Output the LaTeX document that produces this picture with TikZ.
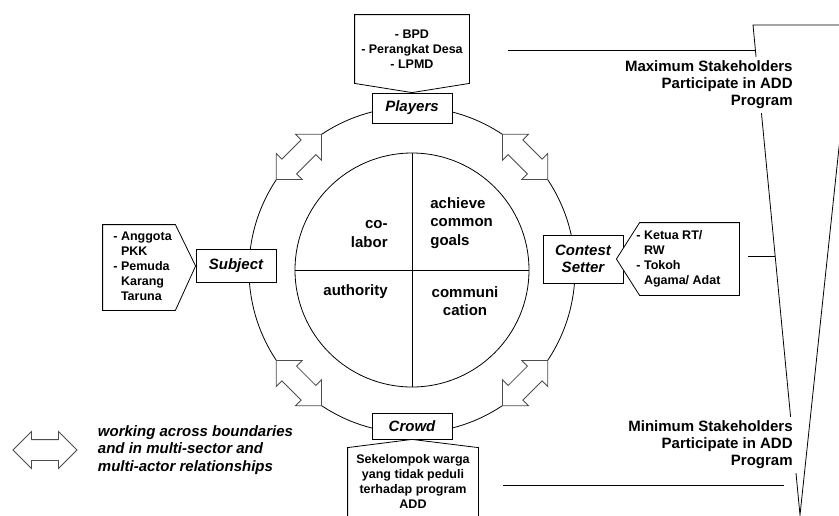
\documentclass[tikz,border=0pt]{standalone}
\usepackage{fontspec}
\setmainfont{Liberation Sans}
\usetikzlibrary{shapes.arrows,positioning,calc}

\tikzset{
  lbl/.style={draw, fill=white, font=\bfseries\itshape\fontsize{15}{17}\selectfont, inner sep=0pt, minimum width=80pt, minimum height=30pt, align=center},
  cbody/.style={inner sep=0pt},
  callout/.style={draw, fill=white},
  ctext/.style={font=\bfseries\fontsize{12.5}{15}\selectfont, inner sep=0pt},
  qtext/.style={font=\bfseries\fontsize{15}{18.5}\selectfont, inner sep=0pt},
  note/.style={font=\bfseries\fontsize{15}{17}\selectfont, fill=white, inner sep=4pt, align=right},
  legend/.style={font=\bfseries\itshape\fontsize{15}{17.5}\selectfont, inner sep=2pt, align=left},
  linkarrow/.style={double arrow, draw=black!70, fill=white, double arrow head extend=8pt, double arrow tip angle=90, inner xsep=0pt, inner ysep=10pt, minimum height=64pt}
}

\begin{document}
\begin{tikzpicture}[x=1pt, y=-1pt, line width=0.8pt]
\useasboundingbox (0,0) rectangle (839,515);

% circle =============================
\coordinate (ctr) at (412,270);
\draw (ctr) circle[radius=163pt];
\draw (ctr) circle[radius=117pt];
\draw ($(ctr)+(0,-117)$) -- ($(ctr)+(0,117)$);
\draw ($(ctr)+(-117,0)$) -- ($(ctr)+(117,0)$);

% quarters
\node[qtext, align=left, anchor=west] (goals) at (430,223) {achieve\\common\\goals};
\node[qtext, align=right, anchor=east] (colabor) at (388,234) {co-\\labor};
\node[qtext, anchor=east] (authority) at (388,292) {authority};
\node[qtext, align=center] (communi) at (465,301) {communi\\cation};

% links on the ring
\foreach \a [count=\i] in {135,45,-45,-135}
  \node[linkarrow, rotate=\a+90] (link\i) at ($(ctr)+({160*cos(\a)},{-160*sin(\a)})$) {};

% actors =============================
\node[lbl] (players) at (412,108) {Players};
\node[lbl, minimum height=33pt] (subject) at (236,266) {Subject};
\node[lbl, minimum height=48pt] (contest) at (583,259) {Contest\\Setter};
\node[lbl, minimum height=26pt] (crowd) at (412,426) {Crowd};

% players callout
\node[cbody, minimum width=114pt, minimum height=68pt] (bpdbox) at (412,49) {};
\draw[callout] (bpdbox.north west) -- (bpdbox.north east) -- (bpdbox.south east) -- (players.north) -- (bpdbox.south west) -- cycle;
\node[ctext, align=center] (bpd) at (bpdbox) {- BPD\\- Perangkat Desa\\- LPMD};

% subject callout
\node[cbody, minimum width=72pt, minimum height=85pt] (pkkbox) at (139,267.5) {};
\draw[callout] (pkkbox.north west) -- (pkkbox.north east) -- (subject.west) -- (pkkbox.south east) -- (pkkbox.south west) -- cycle;
\node[ctext, anchor=west] (pkk) at (113,267) {\begin{tabular}{@{}l@{\ }l@{}}- & Anggota\\ & PKK\\- & Pemuda\\ & Karang\\ & Taruna\end{tabular}};

% contest setter callout
\node[cbody, minimum width=99pt, minimum height=72pt] (rtbox) at (689.5,259) {};
\coordinate (rtpoint) at ([xshift=-7pt]contest.east);
\draw[callout] (rtbox.north west) -- (rtbox.north east) -- (rtbox.south east) -- (rtbox.south west) -- (rtpoint) -- cycle;
\node[ctext, anchor=west] (rt) at (636,259) {\begin{tabular}{@{}l@{\ }l@{}}- & Ketua RT/\\ & RW\\- & Tokoh\\ & Agama/ Adat\end{tabular}};

% crowd callout
\node[cbody, minimum width=130pt, minimum height=82pt] (crowdbox) at (413,489) {};
\draw[callout] (crowdbox.north west) -- (crowd.south) -- (crowdbox.north east) -- (crowdbox.south east) -- (crowdbox.south west) -- cycle;
\node[ctext, align=center] (warga) at (413,481) {Sekelompok warga\\yang tidak peduli\\terhadap program\\ADD};

% funnel =============================
\coordinate (ftl) at (753,25);
\coordinate (ftr) at (852,25);
\coordinate (ftip) at (800,515);
\draw (ftr) -- (ftl) -- (ftip) -- cycle;
\coordinate (fmax) at ($(ftl)!0.051!(ftip)$);
\coordinate (fmid) at ($(ftl)!0.473!(ftip)$);
\coordinate (fmin) at ($(ftl)!0.939!(ftip)$);

\node[note, anchor=east] (maxtxt) at (797,85) {Maximum Stakeholders\\Participate in ADD\\Program};
\node[note, anchor=east] (mintxt) at (797,445) {Minimum Stakeholders\\Participate in ADD\\Program};

\draw[shorten <=39pt] (bpdbox.east |- fmax) -- (fmax);
\draw[shorten <=9pt] (rtbox.east |- fmid) -- (fmid);
\draw[shorten <=25pt, shorten >=13pt] (crowdbox.east |- fmin) -- (fmin);

% legend
\node[linkarrow] (legarrow) at (45,450) {};
\node[legend, right=18pt of legarrow] (legtxt) {working across boundaries\\and in multi-sector and\\multi-actor relationships};

\end{tikzpicture}
\end{document}
